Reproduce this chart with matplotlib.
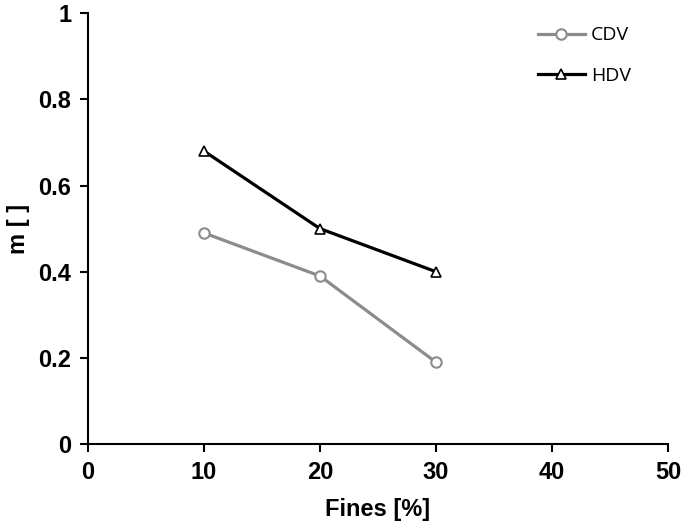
import matplotlib.pyplot as plt

# --- Dados ---
fines = [10, 20, 30]
m_cdv = [0.49, 0.39, 0.19]
m_hdv = [0.68, 0.50, 0.40]

plt.rcParams['font.family'] = ['Liberation Sans', 'DejaVu Sans']

fig = plt.figure(figsize=(6.85, 5.28), dpi=100)
ax = fig.add_axes([0.1285, 0.159, 0.8465, 0.816])

ax.plot(fines, m_cdv, color="#8c8c8c", lw=2.3, marker="o", ms=7.5,
        mfc="white", mec="#8c8c8c", mew=1.5, label="CDV")
ax.plot(fines, m_hdv, color="black", lw=2.3, marker="^", ms=7.5,
        mfc="white", mec="black", mew=1.2, label="HDV")

ax.set_xlim(0, 50)
ax.set_ylim(0, 1)
ax.set_xticks([0, 10, 20, 30, 40, 50])
ax.set_yticks([0, 0.2, 0.4, 0.6, 0.8, 1])
ax.set_yticklabels(["0", "0.2", "0.4", "0.6", "0.8", "1"])

for s in ["top", "right"]:
    ax.spines[s].set_visible(False)
for s in ["left", "bottom"]:
    ax.spines[s].set_linewidth(1.5)

ax.tick_params(direction="out", length=6, width=1.5, labelsize=17, pad=6)
for lbl in ax.get_xticklabels() + ax.get_yticklabels():
    lbl.set_fontweight("bold")

ax.set_xlabel("Fines [%]", fontsize=17, fontweight="bold", labelpad=10)
ax.set_ylabel("m [ ]", fontsize=17, fontweight="bold", labelpad=6)

ax.legend(loc="upper right", bbox_to_anchor=(0.966, 1.01), frameon=False,
          labelspacing=1.15, handlelength=2.4,
          handletextpad=0.3, prop={"family": "Open Sans", "size": 14})

plt.savefig("out.png", dpi=100)
